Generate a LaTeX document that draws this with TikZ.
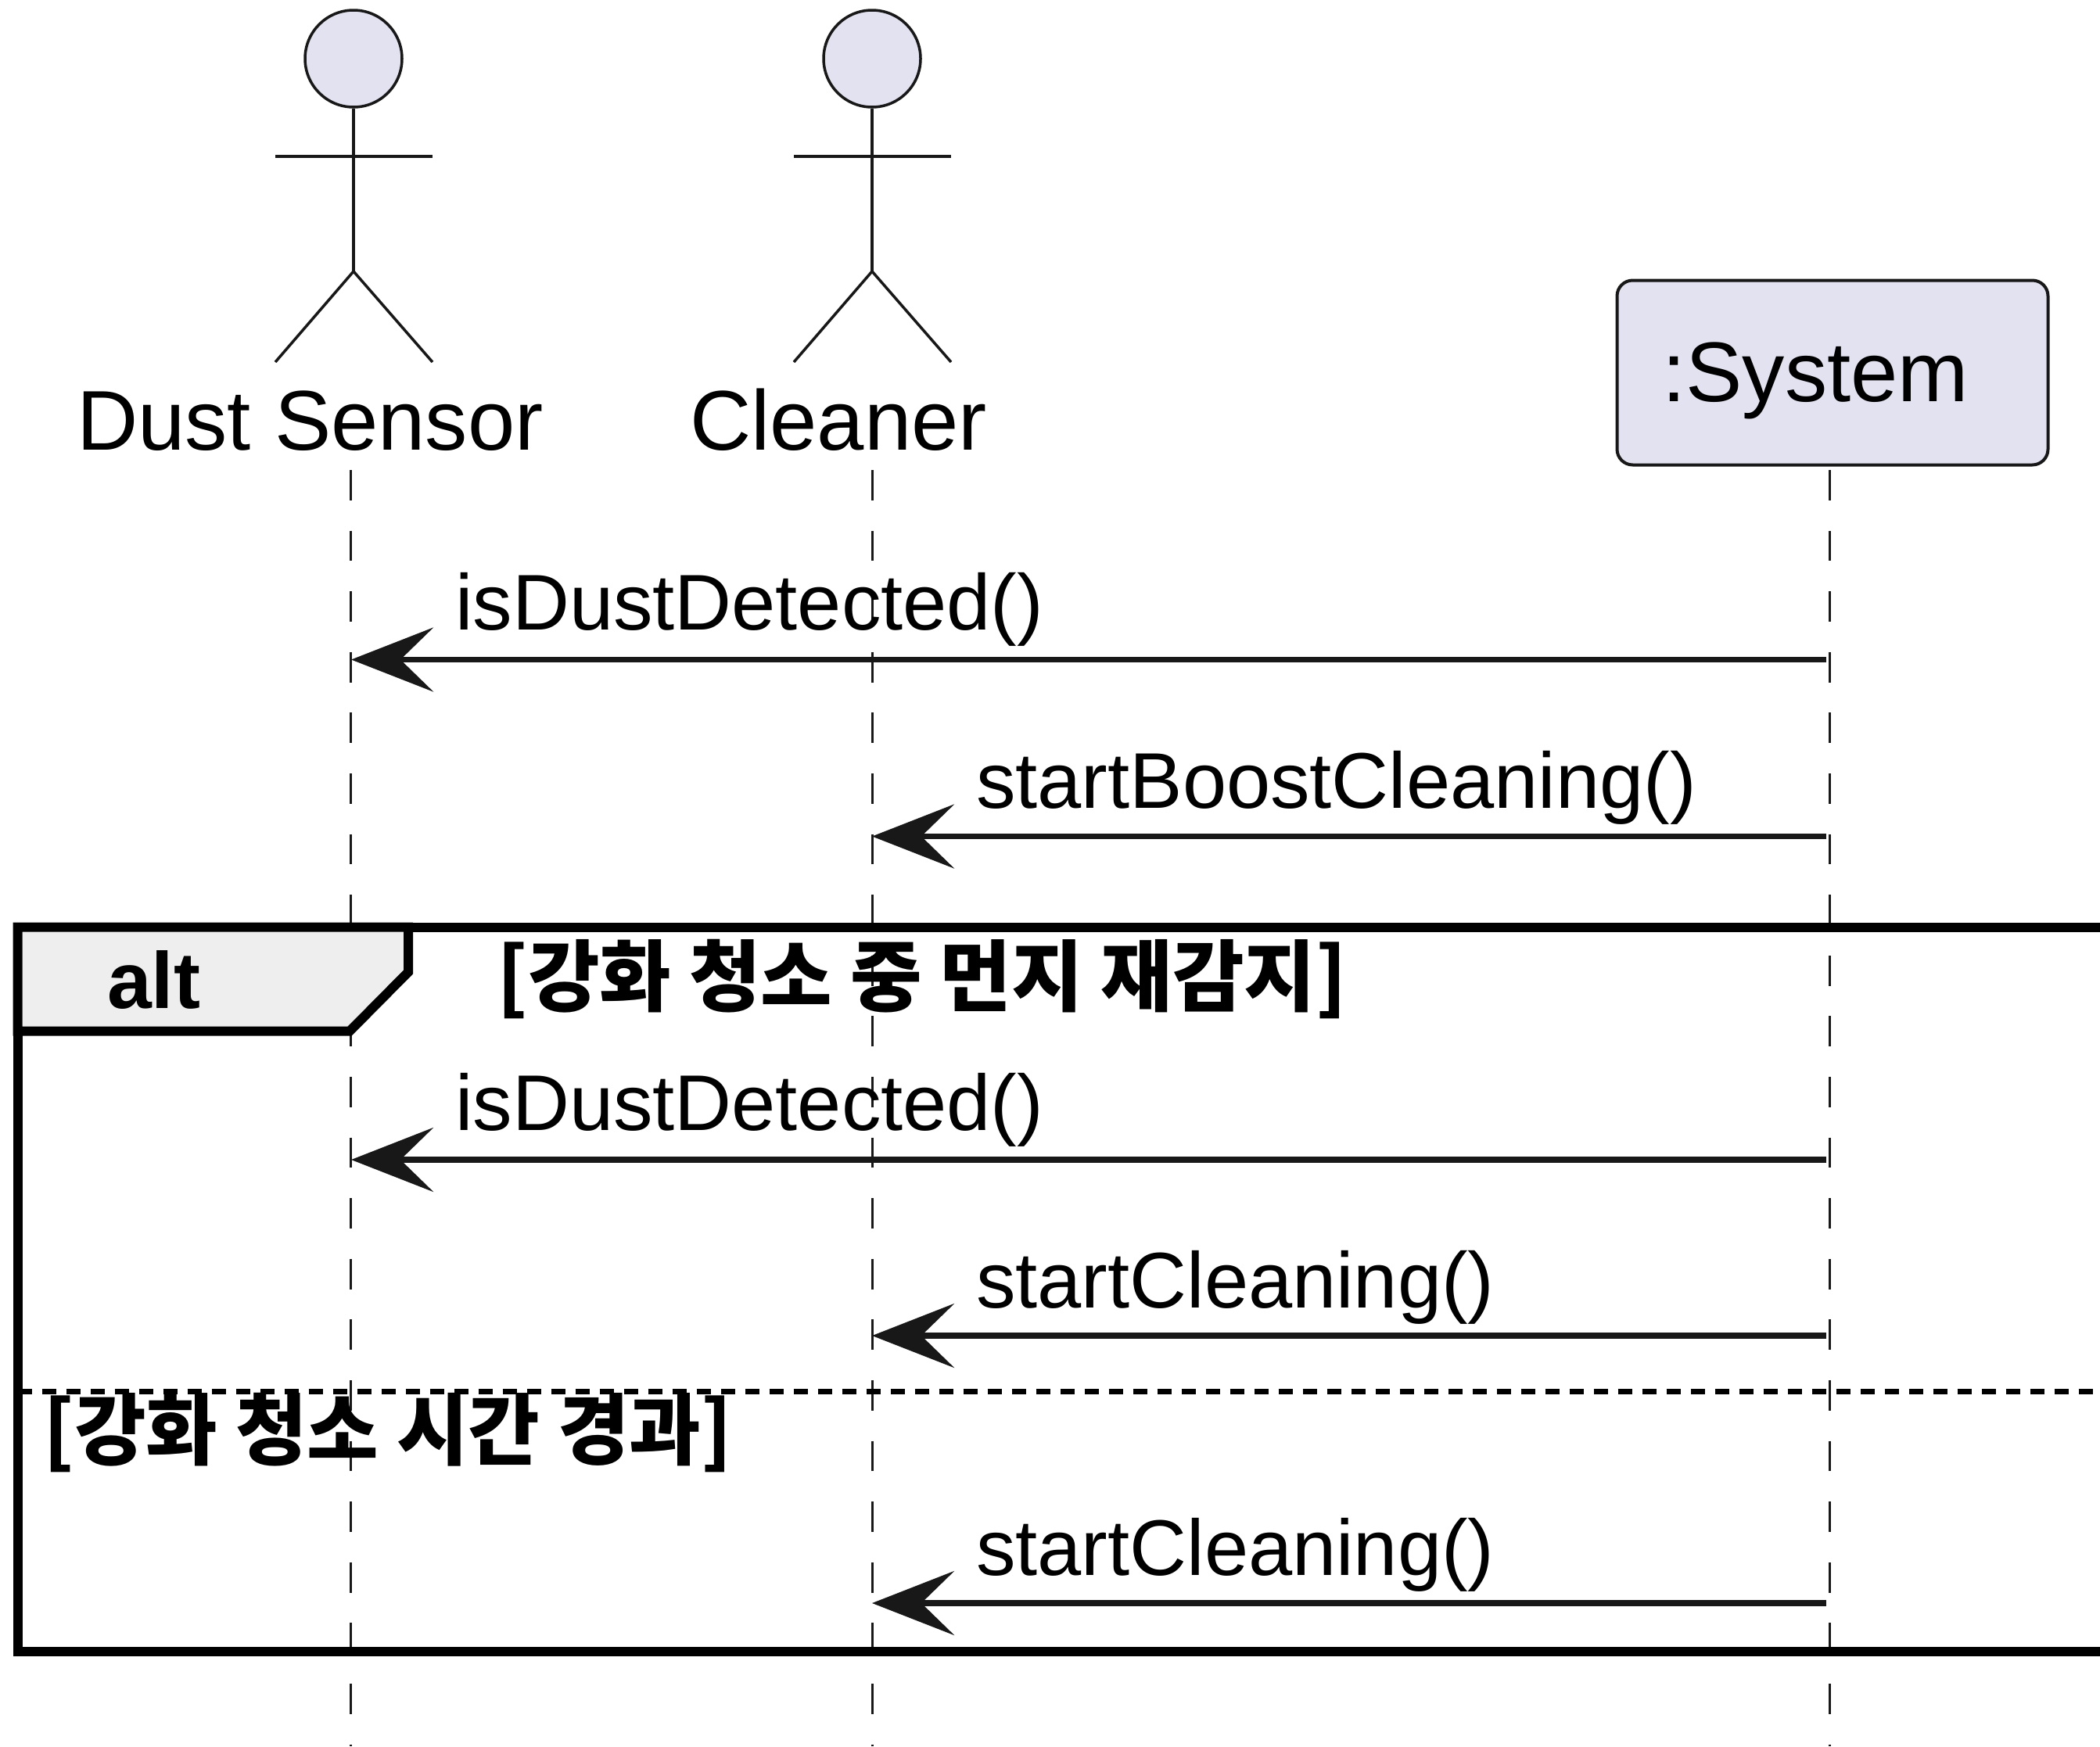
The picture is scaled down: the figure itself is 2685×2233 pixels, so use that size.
\documentclass[tikz,border=0pt]{standalone}
\usepackage{fontspec}
\setmainfont{Liberation Sans}
\newfontfamily\krfont{Noto Sans CJK KR}
\usetikzlibrary{arrows.meta}
\begin{document}
\begin{tikzpicture}[x=1pt,y=-1pt,
  actorline/.style={line width=3.5pt, custcol_18_18_18},
  actorhead/.style={circle, draw=custcol_18_18_18, fill=custcol_e2_e2_f0, line width=3.5pt, minimum size=124pt, inner sep=0},
  sysbox/.style={draw=custcol_18_18_18, fill=custcol_e2_e2_f0, line width=4pt, rounded corners=20pt, inner xsep=58pt, inner ysep=0, text width=435pt, minimum height=236pt, align=left, text height=96pt, text depth=22pt, font=\fontsize{108.4pt}{108.4pt}\selectfont},
  lifeline/.style={line width=3pt, custcol_18_18_18, dash pattern=on 38.8pt off 38.8pt},
  msgline/.style={line width=7.5pt, custcol_18_18_18, -{Stealth[length=105pt,width=82pt,inset=42pt,sep=0pt]}},
  framewall/.style={line width=12pt, black, miter limit=10},
  actorname/.style={inner sep=0, anchor=base west, font=\fontsize{108.4pt}{108.4pt}\selectfont},
  msgname/.style={inner sep=0, anchor=base west, font=\fontsize{101pt}{101pt}\selectfont},
  guardname/.style={inner sep=0, anchor=base west, font=\krfont\bfseries\fontsize{99.6pt}{99.6pt}\selectfont}]
\definecolor{custcol_18_18_18}{RGB}{24, 24, 24}
\definecolor{custcol_e2_e2_f0}{RGB}{226, 226, 240}
\definecolor{custcol_ee_ee_ee}{RGB}{238, 238, 238}
\useasboundingbox (0,0) rectangle (2685,2233);
\coordinate (sensorTop) at (448.5,601);
\coordinate (sensorEnd) at (448.5,2233);
\coordinate (cleanerTop) at (1115,601);
\coordinate (cleanerEnd) at (1115,2233);
\coordinate (systemTop) at (2339,601);
\coordinate (systemEnd) at (2339,2233);
\draw [lifeline] (sensorTop) -- (sensorEnd);
\draw [lifeline] (cleanerTop) -- (cleanerEnd);
\draw [lifeline] (systemTop) -- (systemEnd);
\node [actorhead] (sensorHead) at (452,75) {};
\coordinate (sensorHip) at (452,347);
\coordinate (sensorArmL) at (352,200);
\coordinate (sensorArmR) at (553,200);
\coordinate (sensorFootL) at (352,463);
\coordinate (sensorFootR) at (553,463);
\draw [actorline] (sensorHead.south) -- (sensorHip);
\draw [actorline] (sensorArmL) -- (sensorArmR);
\draw [actorline] (sensorFootL) -- (sensorHip) -- (sensorFootR);
\node [actorhead] (cleanerHead) at (1115,75) {};
\coordinate (cleanerHip) at (1115,347);
\coordinate (cleanerArmL) at (1015,200);
\coordinate (cleanerArmR) at (1216,200);
\coordinate (cleanerFootL) at (1015,463);
\coordinate (cleanerFootR) at (1216,463);
\draw [actorline] (cleanerHead.south) -- (cleanerHip);
\draw [actorline] (cleanerArmL) -- (cleanerArmR);
\draw [actorline] (cleanerFootL) -- (cleanerHip) -- (cleanerFootR);
\node [actorname] (sensorName) at (98,575) {Dust Sensor};
\node [actorname] (cleanerName) at (882,575) {Cleaner};
\node [sysbox] (systemBox) at (2343,476.5) {:System};
\coordinate (fromA) at (2335,843.5);
\coordinate (toA) at (449,843.5);
\coordinate (fromB) at (2335,1069.5);
\coordinate (toB) at (1115,1069.5);
\coordinate (fromC) at (2335,1483);
\coordinate (toC) at (449,1483);
\coordinate (fromD) at (2335,1708);
\coordinate (toD) at (1115,1708);
\coordinate (fromE) at (2335,2050);
\coordinate (toE) at (1115,2050);
\draw [msgline] (fromA) -- (toA);
\draw [msgline] (fromB) -- (toB);
\draw [msgline] (fromC) -- (toC);
\draw [msgline] (fromD) -- (toD);
\draw [msgline] (fromE) -- (toE);
\node [msgname] (labelA) at (582,805) {isDustDetected()};
\node [msgname] (labelB) at (1248,1033) {startBoostCleaning()};
\node [msgname] (labelC) at (582,1445) {isDustDetected()};
\node [msgname] (labelD) at (1248,1672) {startCleaning()};
\node [msgname] (labelE) at (1248,2014) {startCleaning()};
\coordinate (frameTR) at (2685,1185.7);
\coordinate (frameTL) at (22.5,1185.7);
\coordinate (frameBL) at (22.5,2112);
\coordinate (frameBR) at (2685,2112);
\coordinate (tabA) at (522,1185.7);
\coordinate (tabB) at (522,1243);
\coordinate (tabC) at (447,1318.7);
\coordinate (tabD) at (22.5,1318.7);
\draw [framewall] (frameTR) -- (frameTL) -- (frameBL) -- (frameBR);
\draw [framewall, fill=custcol_ee_ee_ee] (frameTL) -- (tabA) -- (tabB) -- (tabC) -- (tabD) -- cycle;
\coordinate (elseL) at (22.5,1779);
\coordinate (elseR) at (2685,1779);
\draw [line width=7pt, black, dash pattern=on 18pt off 13pt] (elseL) -- (elseR);
\node [inner sep=0, anchor=base west, font=\bfseries\fontsize{102pt}{102pt}\selectfont] (altName) at (137,1289) {alt};
\node [guardname] (guardA) at (635,1285) {[강화 청소 중 먼지 재감지]};
\node [guardname] (guardB) at (55,1865) {[강화 청소 시간 경과]};
\end{tikzpicture}
\end{document}
